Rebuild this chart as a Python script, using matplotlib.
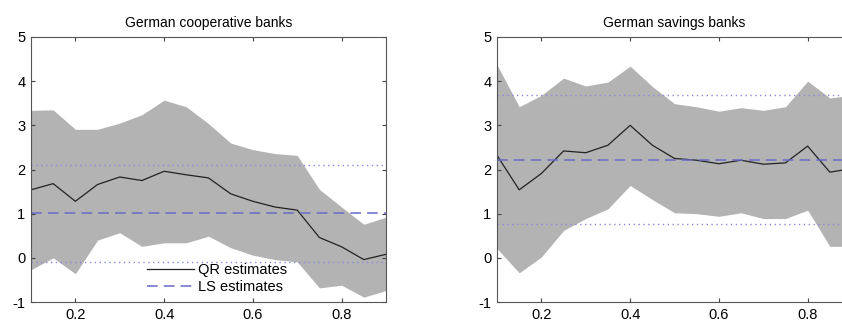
import numpy as np
import matplotlib
matplotlib.use("Agg")
import matplotlib.pyplot as plt

plt.rcParams['font.family'] = ['Liberation Sans', 'DejaVu Sans']
plt.rcParams['axes.unicode_minus'] = False

# ─── DATA ──────────────────────────────────────────────────────────────────────
quantiles = [0.10, 0.15, 0.20, 0.25, 0.30, 0.35, 0.40, 0.45, 0.50,
             0.55, 0.60, 0.65, 0.70, 0.75, 0.80, 0.85, 0.90]

coop_qr    = [1.54, 1.68, 1.28, 1.66, 1.83, 1.75, 1.96, 1.88, 1.81,
              1.45, 1.28, 1.15, 1.08, 0.46, 0.25, -0.04, 0.08]
coop_upper = [3.34, 3.35, 2.91, 2.91, 3.05, 3.24, 3.57, 3.42, 3.04,
              2.60, 2.45, 2.36, 2.32, 1.55, 1.15, 0.76, 0.92]
coop_lower = [-0.27, 0.00, -0.36, 0.40, 0.57, 0.26, 0.34, 0.34, 0.49,
              0.23, 0.06, -0.04, -0.09, -0.68, -0.62, -0.89, -0.74]
coop_ls, coop_ls_lo, coop_ls_hi = 1.01, -0.09, 2.11

sav_qr    = [2.32, 1.54, 1.91, 2.42, 2.38, 2.55, 3.00, 2.55, 2.25,
             2.21, 2.13, 2.21, 2.12, 2.15, 2.53, 1.94, 2.02]
sav_upper = [4.37, 3.42, 3.68, 4.07, 3.89, 3.98, 4.34, 3.88, 3.49,
             3.42, 3.32, 3.40, 3.34, 3.42, 4.00, 3.62, 3.68]
sav_lower = [0.21, -0.34, 0.02, 0.62, 0.89, 1.11, 1.64, 1.32, 1.02,
             1.00, 0.94, 1.02, 0.89, 0.89, 1.08, 0.26, 0.26]
sav_ls, sav_ls_lo, sav_ls_hi = 2.22, 0.76, 3.69

titles = ["German cooperative banks", "German savings banks"]

# ─── PLOT ──────────────────────────────────────────────────────────────────────
fig = plt.figure(figsize=(8.42, 3.22), dpi=100)
ax1 = fig.add_axes([0.0368, 0.0621, 0.4216, 0.823])
ax2 = fig.add_axes([0.5903, 0.0621, 0.4216, 0.823])

panels = [
    (ax1, coop_qr, coop_lower, coop_upper, coop_ls, coop_ls_lo, coop_ls_hi),
    (ax2, sav_qr, sav_lower, sav_upper, sav_ls, sav_ls_lo, sav_ls_hi),
]

for i, (ax, qr, lo, hi, ls, ls_lo, ls_hi) in enumerate(panels):
    ax.fill_between(quantiles, lo, hi, color="#b3b3b3", linewidth=0)
    ax.plot(quantiles, qr, color="#222222", lw=0.9, label="QR estimates")
    ax.axhline(ls, color="#6a6ac8", lw=1.1, ls=(0, (7, 4)), label="LS estimates")
    ax.axhline(ls_hi, color="#8888dd", lw=1.0, ls=(0, (1, 2.5)))
    ax.axhline(ls_lo, color="#8888dd", lw=1.0, ls=(0, (1, 2.5)))

    ax.set_xlim(0.1, 0.9)
    ax.set_ylim(-1, 5)
    ax.set_xticks([0.2, 0.4, 0.6, 0.8])
    ax.set_yticks(range(-1, 6))
    ax.tick_params(direction="in", top=True, right=True, length=3,
                   labelsize=10.5, color="#444444", pad=4)
    for sp in ax.spines.values():
        sp.set_color("#555555")
        sp.set_linewidth(0.8)
    ax.set_title(titles[i], fontsize=10, pad=7)

ax1.legend(loc="lower left", bbox_to_anchor=(0.29, -0.02), frameon=False,
           fontsize=10.5, handlelength=3.2, handletextpad=0.3, labelspacing=0.2)

fig.savefig("out.png", dpi=100)
